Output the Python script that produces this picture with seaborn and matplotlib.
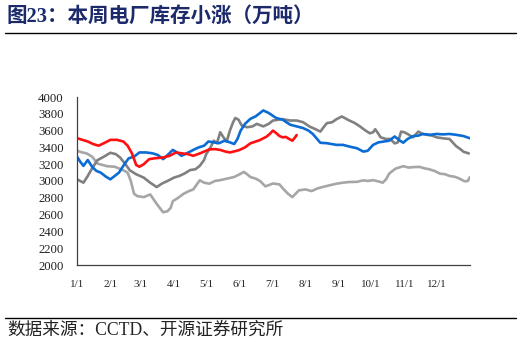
import matplotlib
matplotlib.use("Agg")
import matplotlib.pyplot as plt
import seaborn as sns
import pandas as pd

# ---- data (day of year, 万吨) ----
red_days = [0,5,10,15,20,25,31,37,43,47,51,55,58,62,67,72,80,86,92,97,103,108,114,118,123,128,133,138,142,147,151,156,161,166,170,176,179,182,185,188,191,194,197,200,202,204]
red_vals = [3510,3490,3470,3440,3420,3450,3490,3490,3470,3420,3330,3190,3170,3200,3260,3270,3280,3300,3340,3330,3320,3300,3328,3350,3376,3380,3370,3350,3340,3355,3370,3400,3448,3470,3488,3528,3560,3600,3570,3536,3520,3525,3500,3480,3510,3547]

blue_days = [0,3,6,10,14,18,22,27,31,35,39,44,48,53,58,64,70,75,80,85,89,93,97,102,108,113,118,122,127,132,137,142,146,149,152,156,161,166,170,173,178,185,191,198,204,210,215,219,223,226,232,241,247,253,260,266,270,275,280,285,290,295,300,303,307,312,317,321,328,334,340,346,352,359,365]
blue_vals = [3290,3230,3180,3250,3170,3120,3100,3050,3020,3060,3100,3200,3270,3290,3340,3340,3330,3310,3260,3320,3370,3340,3300,3330,3370,3400,3420,3470,3460,3450,3480,3460,3440,3500,3600,3680,3740,3770,3810,3840,3810,3750,3730,3670,3650,3630,3600,3560,3500,3455,3450,3430,3430,3410,3390,3350,3360,3430,3460,3470,3480,3530,3480,3456,3500,3534,3540,3560,3550,3560,3555,3560,3550,3535,3508]

dgray_days = [0,3,6,10,14,19,25,31,36,40,45,49,55,62,68,74,79,84,90,95,100,105,110,114,118,120,124,127,130,133,136,139,142,145,147,150,153,158,163,167,173,178,182,187,191,198,204,210,216,221,226,229,232,237,241,246,250,253,258,263,268,272,275,277,280,282,287,291,295,298,301,304,307,312,315,317,321,325,330,334,340,346,352,356,359,364]
dgray_vals = [3020,3000,2980,3060,3150,3248,3290,3336,3320,3280,3200,3128,3080,3040,2980,2928,2970,3000,3040,3060,3090,3130,3140,3180,3250,3320,3400,3480,3450,3580,3520,3470,3600,3700,3750,3730,3660,3640,3650,3680,3650,3680,3720,3730,3736,3720,3720,3700,3648,3620,3588,3640,3688,3700,3736,3768,3740,3720,3690,3648,3600,3568,3580,3616,3560,3520,3500,3500,3448,3460,3588,3580,3560,3520,3560,3588,3560,3550,3540,3520,3508,3500,3416,3380,3348,3328]

lgray_days = [0,5,9,14,19,24,28,35,43,47,50,53,56,62,68,74,78,80,84,87,89,94,99,104,108,114,118,123,128,133,140,146,151,155,158,161,166,170,175,182,188,192,196,200,206,212,218,223,228,235,241,247,253,260,266,270,275,280,284,287,290,293,296,303,308,312,318,323,327,332,337,342,346,351,355,360,363,365]
lgray_vals = [3360,3340,3328,3290,3208,3190,3176,3170,3128,3100,3000,2848,2820,2808,2840,2728,2660,2628,2640,2680,2760,2800,2848,2880,2900,3008,2980,2968,3000,3010,3030,3048,3080,3108,3080,3048,3028,3000,2936,2970,2960,2900,2848,2808,2888,2900,2880,2910,2928,2950,2968,2980,2988,2990,3008,3000,3010,2995,2980,3020,3088,3120,3148,3176,3160,3165,3168,3150,3140,3120,3088,3080,3060,3050,3030,2996,3000,3048]

month_ticks = [0,31,59,90,120,151,181,212,243,273,304,334,365]
month_labels = ["1/1","2/1","3/1","4/1","5/1","6/1","7/1","8/1","9/1","10/1","11/1","12/1",""]
y_ticks = list(range(2000, 4001, 200))

series = [
    ("lgray", lgray_days, lgray_vals, "#A6A6A6"),
    ("dgray", dgray_days, dgray_vals, "#808080"),
    ("blue", blue_days, blue_vals, "#0A6CD4"),
    ("red", red_days, red_vals, "#FF1010"),
]

sns.set_style("white")
plt.rcParams['font.family'] = ['Liberation Serif', 'Noto Sans CJK SC', 'DejaVu Sans']

fig = plt.figure(figsize=(5.22, 3.45), dpi=100)
ax = fig.add_axes([77/522, 1-265/345, (470-77)/522, (265-97)/345])

for name, d, v, c in series:
    df = pd.DataFrame({"day": d, "val": v})
    sns.lineplot(data=df, x="day", y="val", ax=ax, color=c, linewidth=1.9,
                 estimator=None, sort=False)

ax.set_xlim(0, 365)
ax.set_ylim(2000, 4000)
ax.set_xticks(month_ticks)
ax.set_xticklabels(month_labels)
ax.set_yticks(y_ticks)
ax.set_xlabel("")
ax.set_ylabel("")
for s in ["top", "right"]:
    ax.spines[s].set_visible(False)
for s in ["left", "bottom"]:
    ax.spines[s].set_color("#404040")
    ax.spines[s].set_linewidth(0.9)
ax.tick_params(axis="both", direction="out", length=3.5, width=0.9, color="#404040",
               labelcolor="#222222")
ax.tick_params(axis="x", pad=7, labelsize=7.9)
ax.tick_params(axis="y", pad=6, labelsize=9.2)

# title and source
fig.text(7/522, 1-17/345, "图23：本周电厂库存小涨（万吨）", fontsize=14.8, fontweight="bold",
         color="#1C2A6B", va="center", ha="left",
         family=['Liberation Serif', 'Noto Sans CJK SC'])
fig.add_artist(plt.Line2D([5/522, 516/522], [1-33/345, 1-33/345], color="black", linewidth=1.0))
fig.add_artist(plt.Line2D([5/522, 516/522], [1-318/345, 1-318/345], color="black", linewidth=1.0))
fig.text(7/522, 1-330/345, "数据来源：CCTD、开源证券研究所", fontsize=12.7, color="#222222",
         va="center", ha="left", family=['Liberation Serif', 'Noto Sans CJK SC'])

fig.savefig("out.png", dpi=100)
